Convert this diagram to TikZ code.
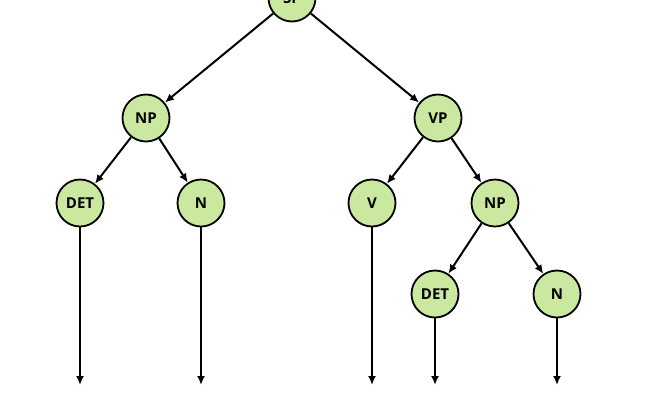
\documentclass[tikz,border=0pt]{standalone}
\usepackage{fontspec}
\setmainfont{Open Sans}
\usetikzlibrary{arrows.meta}
\definecolor{nodegreen}{RGB}{202,232,160}
\begin{document}
\begin{tikzpicture}[x=1pt,y=-1pt,
  tn/.style={circle,draw=black,line width=1.8pt,fill=nodegreen,minimum size=47pt,inner sep=0pt,font=\bfseries\fontsize{15}{17}\selectfont},
  edge/.style={-{Latex[length=9pt,width=8pt]},line width=2pt}]
\path[use as bounding box] (0,0) rectangle (650,400);
\clip (0,0) rectangle (650,400);
\node[tn] (s) at (292,-2) {SP};
\node[tn] (np) at (146,118) {NP};
\node[tn] (vp) at (438,118) {VP};
\node[tn] (det) at (80,203) {DET};
\node[tn] (n) at (201,203) {N};
\node[tn] (v) at (372,203) {V};
\node[tn] (np2) at (495,203) {NP};
\node[tn] (det2) at (435,294) {DET};
\node[tn] (n2) at (557,294) {N};
\coordinate (e1) at (80,385);
\coordinate (e2) at (201,385);
\coordinate (e3) at (372,385);
\coordinate (e4) at (435,385);
\coordinate (e5) at (557,385);
\draw[edge] (s) -- (np);
\draw[edge] (s) -- (vp);
\draw[edge] (np) -- (det);
\draw[edge] (np) -- (n);
\draw[edge] (vp) -- (v);
\draw[edge] (vp) -- (np2);
\draw[edge] (np2) -- (det2);
\draw[edge] (np2) -- (n2);
\draw[edge] (det) -- (e1);
\draw[edge] (n) -- (e2);
\draw[edge] (v) -- (e3);
\draw[edge] (det2) -- (e4);
\draw[edge] (n2) -- (e5);
\end{tikzpicture}
\end{document}
